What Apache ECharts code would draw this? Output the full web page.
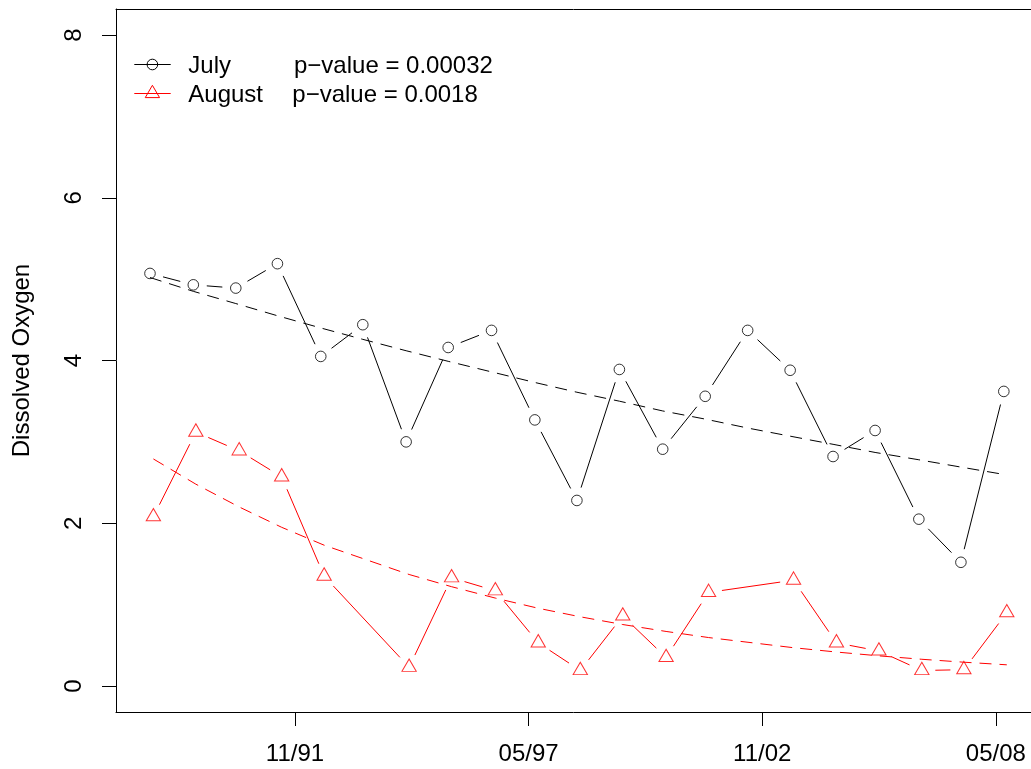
<!DOCTYPE html>
<html>
<head>
<meta charset="utf-8">
<script src="https://cdn.jsdelivr.net/npm/echarts@6/dist/echarts.min.js"></script>
<style>
  html, body { margin: 0; padding: 0; background: #fff; }
  #chart { width: 1031px; height: 769px; }
</style>
</head>
<body>
<div id="chart"></div>
<script>
// Sampling times in decimal years
const julyTime = [1988.42, 1989.44, 1990.44, 1991.42, 1992.44, 1993.43, 1994.45, 1995.44, 1996.46, 1997.48,
                  1998.47, 1999.47, 2000.49, 2001.49, 2002.49, 2003.49, 2004.50, 2005.49, 2006.52, 2007.51, 2008.52];
const julyDO = [5.07, 4.93, 4.89, 5.19, 4.05, 4.44, 3.00, 4.16, 4.37, 3.27,
                2.28, 3.89, 2.91, 3.56, 4.37, 3.88, 2.82, 3.14, 2.05, 1.52, 3.62];
const julyTrend = [5.02, 4.85, 4.70, 4.55, 4.40, 4.26, 4.12, 3.99, 3.86, 3.73,
                   3.61, 3.50, 3.38, 3.28, 3.17, 3.07, 2.97, 2.87, 2.78, 2.69, 2.60];

const augTime = [1988.50, 1989.50, 1990.52, 1991.52, 1992.52, 1994.52, 1995.52, 1996.55, 1997.56, 1998.55,
                 1999.55, 2000.57, 2001.57, 2003.57, 2004.58, 2005.58, 2006.59, 2007.58, 2008.59];
const augDO = [2.08, 3.12, 2.89, 2.57, 1.35, 0.23, 1.33, 1.17, 0.53, 0.19,
               0.86, 0.35, 1.15, 1.30, 0.53, 0.43, 0.19, 0.20, 0.90];
const augTrend = [2.79, 2.48, 2.20, 1.95, 1.73, 1.37, 1.22, 1.08, 0.955, 0.85,
                  0.755, 0.67, 0.595, 0.47, 0.417, 0.37, 0.328, 0.292, 0.26];

const xTickValues = [1991.833, 1997.333, 2002.833, 2008.333];
const xTickLabels = ['11/91', '05/97', '11/02', '05/08'];
const yTickValues = [0, 2, 4, 6, 8];

const legendNames = ['July', 'August'];
const legendStats = ['p\u2212value = 0.00032', 'p\u2212value = 0.0018'];

const FONT = '"Liberation Sans", Arial, Helvetica, sans-serif';
const GAP = 13.5; // blank space left around each point on the connecting segments

function pairs(xs, ys) { return xs.map((x, i) => [x, ys[i]]); }

// Segments between consecutive points, stopping short of each point marker
function connector(xs, ys, color) {
  return {
    type: 'custom',
    silent: true,
    data: pairs(xs, ys),
    encode: { x: 0, y: 1 },
    z: 2,
    renderItem: function (params, api) {
      const i = params.dataIndex;
      if (i >= xs.length - 1) return null;
      const p0 = api.coord([xs[i], ys[i]]);
      const p1 = api.coord([xs[i + 1], ys[i + 1]]);
      const dx = p1[0] - p0[0], dy = p1[1] - p0[1];
      const d = Math.sqrt(dx * dx + dy * dy);
      if (d <= 2 * GAP) return null;
      const ux = dx / d, uy = dy / d;
      return {
        type: 'line',
        shape: { x1: p0[0] + ux * GAP, y1: p0[1] + uy * GAP, x2: p1[0] - ux * GAP, y2: p1[1] - uy * GAP },
        style: { stroke: color, lineWidth: 1 }
      };
    }
  };
}

const chart = echarts.init(document.getElementById('chart'), null, { renderer: 'canvas' });

const option = {
  animation: false,
  backgroundColor: '#fff',
  grid: { left: 116, right: 0, top: 9, bottom: 57, containLabel: false },
  xAxis: [{
    type: 'value',
    min: 1987.62, max: 2009.16,
    position: 'bottom',
    axisLine: { show: true, onZero: false, lineStyle: { color: '#000', width: 1 } },
    axisTick: { show: true, customValues: xTickValues, length: 14, lineStyle: { color: '#000', width: 1 } },
    axisLabel: {
      show: true, customValues: xTickValues, margin: 30,
      color: '#000', fontSize: 24, fontFamily: FONT,
      formatter: function (v) {
        let best = 0;
        xTickValues.forEach((t, k) => { if (Math.abs(t - v) < Math.abs(xTickValues[best] - v)) best = k; });
        return xTickLabels[best];
      }
    },
    splitLine: { show: false }
  }, {
    type: 'value',
    min: 1987.62, max: 2009.16,
    position: 'top',
    axisLine: { show: true, onZero: false, lineStyle: { color: '#000', width: 1 } },
    axisTick: { show: false },
    axisLabel: { show: false },
    splitLine: { show: false }
  }],
  yAxis: {
    type: 'value',
    min: -0.32, max: 8.32,
    name: 'Dissolved Oxygen',
    nameLocation: 'middle',
    nameRotate: 90,
    nameGap: 82,
    nameTextStyle: { color: '#000', fontSize: 24, fontFamily: FONT },
    axisLine: { show: true, onZero: false, lineStyle: { color: '#000', width: 1 } },
    axisTick: { show: true, customValues: yTickValues, length: 14, lineStyle: { color: '#000', width: 1 } },
    axisLabel: {
      show: true, customValues: yTickValues, rotate: 90, margin: 30,
      color: '#000', fontSize: 24, fontFamily: FONT
    },
    splitLine: { show: false }
  },
  series: [
    connector(julyTime, julyDO, '#000'),
    {
      name: 'July',
      type: 'scatter',
      data: pairs(julyTime, julyDO),
      symbol: 'circle',
      symbolSize: 10.6,
      itemStyle: { color: 'rgba(0,0,0,0)', borderColor: '#000', borderWidth: 1 },
      z: 3
    },
    {
      name: 'July trend',
      type: 'line',
      data: pairs(julyTime, julyTrend),
      showSymbol: false,
      symbol: 'none',
      lineStyle: { color: '#000', width: 1, type: [12, 8] },
      z: 2
    },
    connector(augTime, augDO, '#ff0000'),
    {
      name: 'August',
      type: 'scatter',
      data: pairs(augTime, augDO),
      symbol: 'triangle',
      symbolSize: [14.3, 12.4],
      symbolOffset: [0, -2.1],
      itemStyle: { color: 'rgba(0,0,0,0)', borderColor: '#ff0000', borderWidth: 1 },
      z: 3
    },
    {
      name: 'August trend',
      type: 'line',
      data: pairs(augTime, augTrend),
      showSymbol: false,
      symbol: 'none',
      lineStyle: { color: '#ff0000', width: 1, type: [12, 8] },
      z: 2
    }
  ],
  graphic: [
    // legend row 1: July
    { type: 'line', shape: { x1: 134.3, y1: 64.5, x2: 170.7, y2: 64.5 }, style: { stroke: '#000', lineWidth: 1 } },
    { type: 'circle', shape: { cx: 152.4, cy: 64.5, r: 5.3 }, style: { fill: 'none', stroke: '#000', lineWidth: 1 } },
    { type: 'text', x: 188.3, y: 66.3, style: { text: legendNames[0], fill: '#000', font: '24px ' + FONT, textVerticalAlign: 'middle' } },
    { type: 'text', x: 294, y: 66.3, style: { text: legendStats[0], fill: '#000', font: '24px ' + FONT, textVerticalAlign: 'middle' } },
    // legend row 2: August
    { type: 'line', shape: { x1: 134.3, y1: 93.5, x2: 170.7, y2: 93.5 }, style: { stroke: '#ff0000', lineWidth: 1 } },
    { type: 'polygon', shape: { points: [[152.4, 85.3], [159.55, 97.6], [145.25, 97.6]] }, style: { fill: 'none', stroke: '#ff0000', lineWidth: 1 } },
    { type: 'text', x: 188.3, y: 95.3, style: { text: legendNames[1], fill: '#000', font: '24px ' + FONT, textVerticalAlign: 'middle' } },
    { type: 'text', x: 292.3, y: 95.3, style: { text: legendStats[1], fill: '#000', font: '24px ' + FONT, textVerticalAlign: 'middle' } }
  ]
};

chart.setOption(option);
</script>
</body>
</html>
